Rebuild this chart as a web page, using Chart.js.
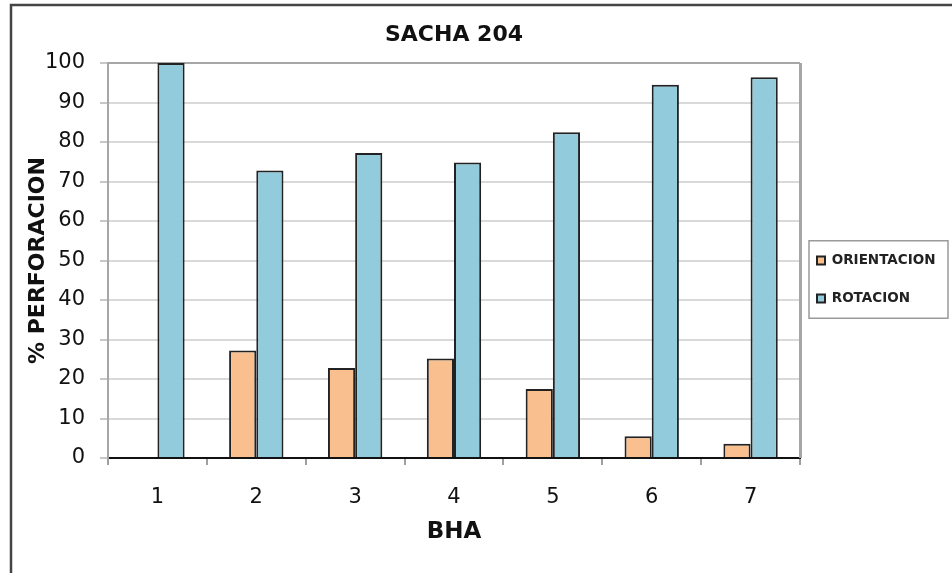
<!DOCTYPE html>
<html>
<head>
<meta charset="utf-8">
<script src="https://cdn.jsdelivr.net/npm/chart.js@4"></script>
<style>
  html, body { margin: 0; padding: 0; background: #fff; }
  #wrap { position: relative; width: 952px; height: 573px; }
</style>
</head>
<body>
<div id="wrap"><canvas id="chart" width="952" height="573"></canvas></div>
<script>
const bhaLabels = ['1', '2', '3', '4', '5', '6', '7'];
const orientacion = [0, 27.2, 22.8, 25.2, 17.5, 5.5, 3.6];
const rotacion = [100, 72.8, 77.2, 74.8, 82.5, 94.5, 96.4];
const yTicks = { min: 0, max: 100, step: 10 };

const FONT = '"DejaVu Sans", Arial, sans-serif';

// legend sizing, plot frame, outer border and legend box
const framePlugin = {
    id: 'framePlugin',
    beforeInit(chart) {
        const fit = chart.legend.fit;
        chart.legend.fit = function () {
            fit.call(this);
            this.width = 152;
        };
    },
    afterLayout(chart) {
        const lg = chart.legend;
        lg.left = chart.chartArea.right - 7.5;
        lg.right = lg.left + lg.width;
        lg.top -= 7;
        lg.bottom -= 7;
    },
    beforeDatasetsDraw(chart) {
        const { ctx, chartArea: a } = chart;
        ctx.save();
        ctx.strokeStyle = '#a6a6a6';
        ctx.lineWidth = 2;
        ctx.beginPath();
        ctx.moveTo(a.left, a.top);
        ctx.lineTo(a.right, a.top);
        ctx.stroke();
        ctx.lineWidth = 3;
        ctx.beginPath();
        ctx.moveTo(a.right + 0.5, a.top);
        ctx.lineTo(a.right + 0.5, a.bottom);
        ctx.stroke();
        ctx.restore();
    },
    afterDraw(chart) {
        const ctx = chart.ctx;
        ctx.save();
        ctx.strokeStyle = '#444';
        ctx.lineWidth = 2.5;
        ctx.strokeRect(11, 5, 2000, 2000);

        const lg = chart.legend;
        const pad = lg.options.labels.padding;
        const colH = lg.columnSizes[0].height;
        const itemsTop = (lg.top + pad + lg.bottom - colH) / 2;
        const boxLeft = lg.left + pad - 8;
        ctx.strokeStyle = '#9a9a9a';
        ctx.lineWidth = 1.5;
        ctx.strokeRect(boxLeft, itemsTop - 13, 139, colH - pad + 26);
        ctx.restore();
    }
};

const ctx = document.getElementById('chart').getContext('2d');

const chart = new Chart(ctx, {
    type: 'bar',
    data: {
        labels: bhaLabels,
        datasets: [{
            label: 'ORIENTACION',
            data: orientacion,
            backgroundColor: '#F9BF8F',
            borderColor: '#222',
            borderWidth: 2,
            categoryPercentage: 0.55,
            barPercentage: 1.0
        }, {
            label: 'ROTACION',
            data: rotacion,
            backgroundColor: '#92CBDC',
            borderColor: '#222',
            borderWidth: 2,
            categoryPercentage: 0.55,
            barPercentage: 1.0
        }]
    },
    options: {
        responsive: false,
        animation: false,
        layout: { padding: 0 },
        plugins: {
            title: {
                display: true,
                text: 'SACHA 204',
                fullSize: false,
                color: '#111',
                font: { family: FONT, size: 22, weight: 'bold' },
                padding: { top: 22, bottom: 14.6 }
            },
            legend: {
                position: 'right',
                labels: {
                    boxWidth: 8,
                    boxHeight: 8,
                    padding: 24.5,
                    color: '#222',
                    font: { family: FONT, size: 13.5, weight: 'bold' }
                }
            },
            tooltip: { enabled: false }
        },
        scales: {
            x: {
                grid: {
                    display: true,
                    drawOnChartArea: false,
                    offset: true,
                    tickLength: 7,
                    tickColor: '#a0a0a0',
                    lineWidth: 2
                },
                border: { display: true, color: '#111', width: 2 },
                ticks: {
                    color: '#111',
                    padding: 20,
                    font: { family: FONT, size: 21 }
                },
                title: {
                    display: true,
                    text: 'BHA',
                    color: '#111',
                    font: { family: FONT, size: 23, weight: 'bold' },
                    padding: { top: 0, bottom: 27 }
                },
                afterFit(scale) { scale.height = 115; }
            },
            y: {
                min: yTicks.min,
                max: yTicks.max,
                ticks: {
                    stepSize: yTicks.step,
                    color: '#111',
                    padding: 15,
                    font: { family: FONT, size: 21 }
                },
                grid: {
                    color: '#d9d9d9',
                    lineWidth: 2,
                    tickLength: 8,
                    tickColor: '#c8c8c8'
                },
                border: { color: '#a6a6a6', width: 2 },
                title: {
                    display: true,
                    text: '% PERFORACION',
                    color: '#111',
                    font: { family: FONT, size: 22, weight: 'bold' },
                    padding: { top: 25, bottom: 0 }
                },
                afterFit(scale) { scale.width = 108; }
            }
        }
    },
    plugins: [framePlugin]
});
</script>
</body>
</html>
